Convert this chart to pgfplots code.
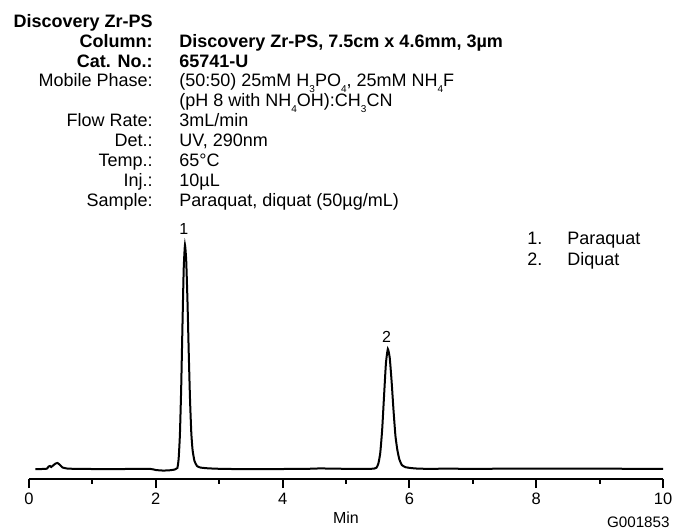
\documentclass[border=0pt]{standalone}
\usepackage{fontspec}
\setmainfont{Liberation Sans}
\usepackage{pgfplots}
\pgfplotsset{compat=1.18}
\newcommand{\sub}[1]{\raisebox{-0.6ex}{\fontsize{5}{5}\selectfont #1}}
\begin{document}
\begin{tikzpicture}[x=0.5pt,y=0.5pt]
\path[use as bounding box] (0,0) rectangle (673,531);
% header
\begin{scope}[every node/.style={inner sep=0pt,font=\fontsize{9}{10}\selectfont}]
\node[anchor=base east] at (153,503.5) {\bfseries Discovery Zr-PS};
\node[anchor=base east] at (153,483.7) {\bfseries Column:};
\node[anchor=base west] at (179,483.7) {\bfseries Discovery Zr-PS, 7.5cm x 4.6mm, 3µm};
\node[anchor=base east] at (153,463.8) {\bfseries Cat. No.:};
\node[anchor=base west] at (179,463.8) {\bfseries 65741-U};
\node[anchor=base east] at (153,444) {Mobile Phase:};
\node[anchor=base west] at (179,444) {(50:50) 25mM H\sub{3}PO\sub{4}, 25mM NH\sub{4}F};
\node[anchor=base west] at (179,424.2) {(pH 8 with NH\sub{4}OH):CH\sub{3}CN};
\node[anchor=base east] at (153,404.3) {Flow Rate:};
\node[anchor=base west] at (179,404.3) {3mL/min};
\node[anchor=base east] at (153,384.5) {Det.:};
\node[anchor=base west] at (179,384.5) {UV, 290nm};
\node[anchor=base east] at (153,364.7) {Temp.:};
\node[anchor=base west] at (179,364.7) {65°C};
\node[anchor=base east] at (153,344.8) {Inj.:};
\node[anchor=base west] at (179,344.8) {10µL};
\node[anchor=base east] at (153,325) {Sample:};
\node[anchor=base west] at (179,325) {Paraquat, diquat (50µg/mL)};
% legend
\node[anchor=base west] at (527,286.5) {1.};
\node[anchor=base west] at (567,286.5) {Paraquat};
\node[anchor=base west] at (527,265.5) {2.};
\node[anchor=base west] at (567,265.5) {Diquat};
\end{scope}
\node[inner sep=0pt,font=\fontsize{8}{9}\selectfont] at (346,13) {Min};
\node[inner sep=0pt,anchor=east,font=\fontsize{7.6}{9}\selectfont] at (670,9) {G001853};
\begin{axis}[
  at={(14.5pt,26pt)}, anchor=origin,
  scale only axis, width=317pt, height=120pt,
  xmin=0, xmax=10, ymin=0, ymax=240,
  clip=false,
  axis x line=bottom, axis y line=none,
  axis line style={-, line width=1pt, black},
  xtick={0,2,...,10}, minor xtick={1,3,...,9},
  tick align=outside,
  major tick length=4.5pt, minor tick length=2.25pt,
  every tick/.style={black, line width=1pt},
  xticklabel style={font=\fontsize{8.25}{9}\selectfont, yshift=1pt},
  /pgf/number format/assume math mode=true,
]
\addplot[black, line width=1pt, smooth, tension=0.3] coordinates {
(0.10,10) (0.20,10) (0.28,10.3) (0.31,12.5) (0.33,13) (0.35,12) (0.38,13.5) (0.42,15.5) (0.45,16) (0.49,14) (0.53,11.5) (0.60,10.5) (0.70,10.2)
(1.00,10) (1.50,10) (1.90,10.2) (2.00,9) (2.10,8.5) (2.20,8.6) (2.30,9.5)
(2.34,11) (2.36,20) (2.38,44) (2.40,90) (2.42,152) (2.44,210) (2.46,234)
(2.48,218) (2.50,177) (2.52,125) (2.54,79) (2.56,46) (2.58,29) (2.61,18) (2.65,13) (2.70,11.5) (2.80,10.8) (2.95,10.3)
(3.20,10) (3.60,9.9) (4.00,10) (4.40,10.2) (4.60,10.6) (4.80,10.3) (5.20,10.2) (5.44,10.3)
(5.48,11.3) (5.51,15.3) (5.54,26) (5.57,49) (5.60,83) (5.63,116) (5.66,130)
(5.69,121) (5.72,97) (5.75,68) (5.78,43) (5.81,29) (5.84,20) (5.88,14) (5.94,11.8) (6.02,11) (6.11,10.5) (6.26,10.2)
(6.60,10.3) (7.00,10.2) (7.50,10.3) (8.00,10.4) (8.50,10.3) (9.00,10.4) (9.50,10.2) (10.00,10.2)
};
\node[inner sep=0pt,font=\fontsize{8}{9}\selectfont] at (axis cs:2.44,250) {1};
\node[inner sep=0pt,font=\fontsize{8}{9}\selectfont] at (axis cs:5.64,142) {2};
\end{axis}
\end{tikzpicture}
\end{document}
